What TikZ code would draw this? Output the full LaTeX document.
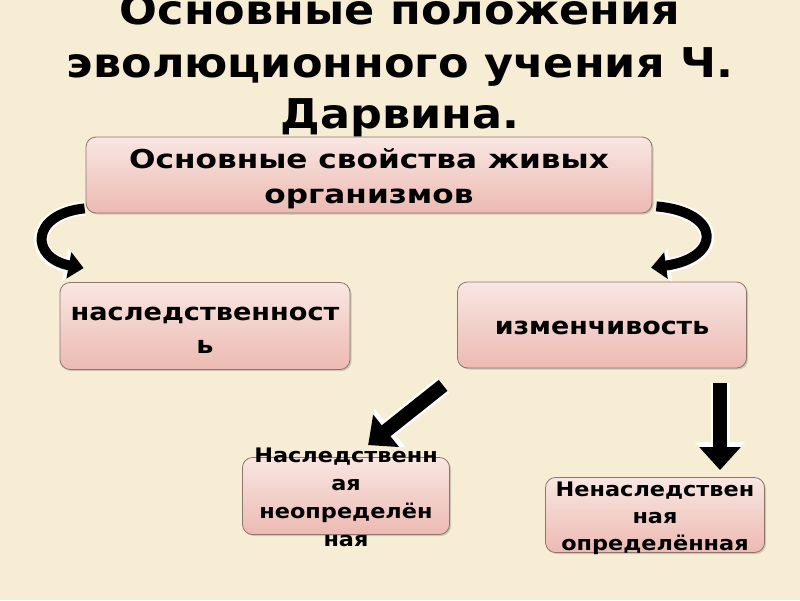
\documentclass[tikz,border=0pt]{standalone}
\usepackage{fontspec}
\setmainfont{DejaVu Sans}
\usetikzlibrary{arrows.meta,shadows}
\definecolor{bg}{RGB}{246,237,212}
\definecolor{boxtop}{RGB}{249,230,226}
\definecolor{boxbot}{RGB}{236,186,178}
\definecolor{boxline}{RGB}{140,118,108}
\tikzset{
  pbox/.style={rounded corners=10pt, draw=boxline, line width=0.8pt,
    top color=boxtop, bottom color=boxbot,
    drop shadow={shadow xshift=1.5pt, shadow yshift=-1.5pt, opacity=0.35},
    inner sep=0pt},
  btxt/.style={font=\bfseries, align=center, inner sep=0pt, xscale=1.12, transform shape},
  blkW/.style={draw=white, line width=19pt, -{Triangle[width=48pt,length=28pt]}},
  blkB/.style={draw=black, line width=14pt, -{Triangle[width=40pt,length=23pt]}},
  crvW/.style={draw=white, line width=14pt, -{Triangle[width=32pt,length=19pt]}},
  crvB/.style={draw=black, line width=10pt, -{Triangle[width=26pt,length=15pt]}},
}
\begin{document}
\begin{tikzpicture}[x=1pt,y=-1pt]
\fill[bg] (0,0) rectangle (800,600);
\useasboundingbox (0,0) rectangle (800,600);

% title
\tikzset{ttl/.style={btxt, anchor=base, xscale=0.97, font=\bfseries\fontsize{41}{52}\selectfont}}
\node[ttl] (t1) at (400,24) {Основные положения};
\node[ttl] (t2) at (400,77) {эволюционного учения Ч.};
\node[ttl] (t3) at (400,128) {Дарвина.};

% boxes
\node[pbox, minimum width=566pt, minimum height=76pt] (b1) at (369,175) {};
\node[btxt, xscale=1.07, font=\bfseries\fontsize{26}{35}\selectfont] (b1t) at (369,179) {Основные свойства живых\\организмов};

\node[pbox, minimum width=290pt, minimum height=87pt] (b2) at (205,326) {};
\node[btxt, xscale=1.01, font=\bfseries\fontsize{24}{33}\selectfont] (b2t) at (205,330) {наследственност\\ь};

\node[pbox, minimum width=289pt, minimum height=86pt] (b3) at (602,325) {};
\node[btxt, font=\bfseries\fontsize{24}{34}\selectfont] (b3t) at (602,328) {изменчивость};

\node[pbox, minimum width=207pt, minimum height=77pt] (b4) at (346,496) {};
\node[btxt, font=\bfseries\fontsize{20}{28}\selectfont] (b4t) at (346,497) {Наследственн\\ая\\неопределён\\ная};

\node[pbox, minimum width=219pt, minimum height=75pt] (b5) at (655,515) {};
\node[btxt, font=\bfseries\fontsize{20}{27}\selectfont] (b5t) at (655,518) {Ненаследствен\\ная\\определённая};

% curved arrows
\coordinate (l1) at ([xshift=-1pt,yshift=5pt]b1.south west);
\coordinate (l2) at ([xshift=24pt,yshift=14pt]b2.north west);
\coordinate (r1) at ([xshift=4pt,yshift=7pt]b1.south east);
\coordinate (r2) at ([xshift=194pt,yshift=14pt]b3.north west);
\draw[crvW] (l1) .. controls (30,214) and (30,258) .. (l2);
\draw[crvB] (l1) .. controls (30,214) and (30,258) .. (l2);
\draw[crvW] (r1) .. controls (722,212) and (722,258) .. (r2);
\draw[crvB] (r1) .. controls (722,212) and (722,258) .. (r2);

% straight block arrows
\coordinate (d1) at ([xshift=-14pt,yshift=-17pt]b3.south west);
\coordinate (d2) at ([xshift=126pt,yshift=12pt]b4.north west);
\draw[blkW] (d1) -- (d2);
\draw[blkB] (d1) -- (d2);
\coordinate (v1) at ([xshift=118pt,yshift=-15pt]b3.south);
\coordinate (v2) at ([xshift=65pt,yshift=7pt]b5.north);
\draw[blkW] (v1) -- (v2);
\draw[blkB] (v1) -- (v2);
\end{tikzpicture}
\end{document}
